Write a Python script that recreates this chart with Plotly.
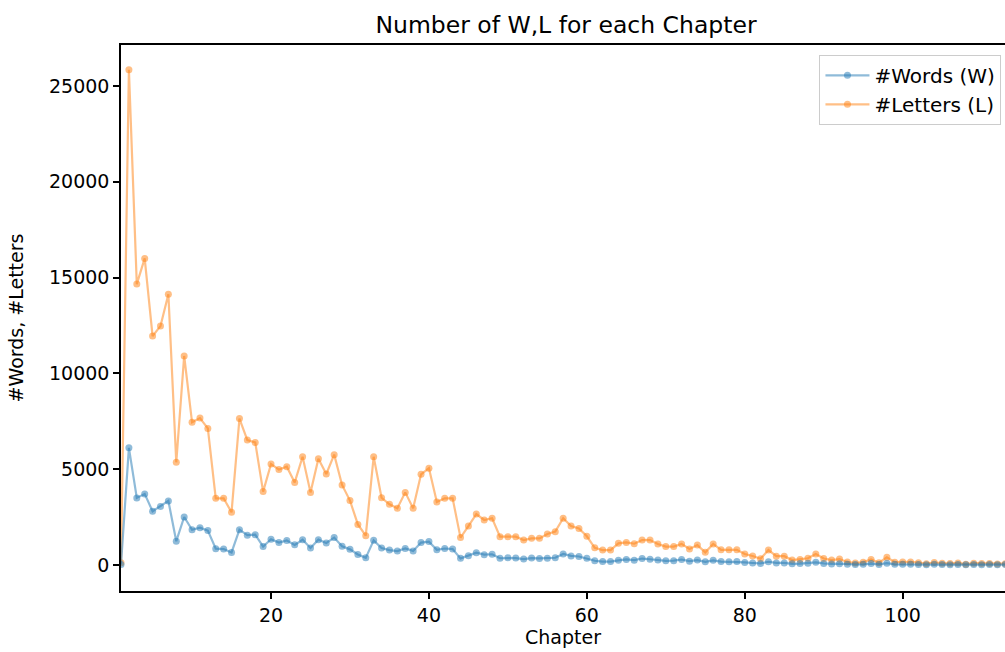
import plotly.graph_objects as go

chapters = list(range(1, 115))

words = [29, 6116, 3503, 3712, 2804, 3055, 3344, 1243, 2505, 1841,
         1947, 1795, 854, 830, 654, 1845, 1559, 1583, 961, 1341,
         1168, 1279, 1051, 1317, 892, 1322, 1149, 1430, 976, 817,
         548, 372, 1287, 883, 778, 729, 865, 735, 1172, 1220,
         796, 860, 833, 346, 488, 644, 539, 560, 353, 373,
         360, 312, 360, 342, 351, 379, 574, 473, 445, 348,
         221, 177, 180, 242, 289, 254, 337, 301, 261, 217,
         227, 286, 200, 256, 164, 243, 181, 174, 179, 133,
         104, 81, 169, 108, 109, 61, 72, 92, 139, 82,
         54, 71, 40, 27, 34, 72, 30, 94, 36, 40,
         36, 28, 14, 33, 23, 17, 25, 10, 27, 19,
         23, 15, 23, 20]

letters = [120, 25850, 14660, 16000, 11950, 12470, 14130, 5360, 10910, 7450,
           7670, 7130, 3480, 3480, 2750, 7640, 6520, 6400, 3830, 5270,
           4980, 5130, 4310, 5650, 3790, 5550, 4750, 5760, 4180, 3360,
           2120, 1530, 5650, 3510, 3170, 2960, 3790, 2960, 4730, 5050,
           3290, 3480, 3480, 1430, 2030, 2660, 2350, 2440, 1480, 1480,
           1480, 1300, 1390, 1390, 1620, 1740, 2440, 2030, 1910, 1500,
           900, 780, 780, 1130, 1180, 1110, 1300, 1300, 1100, 960,
           960, 1100, 840, 1040, 660, 1100, 790, 790, 790, 570,
           470, 330, 780, 460, 460, 260, 290, 350, 570, 340,
           260, 310, 160, 100, 150, 290, 120, 400, 150, 160,
           160, 120, 70, 130, 95, 75, 110, 45, 95, 80,
           80, 47, 70, 80]

x_ticks = [20, 40, 60, 80, 100]
y_ticks = [0, 5000, 10000, 15000, 20000, 25000]

FONT = "DejaVu Sans"
FS = 19

fig = go.Figure()
fig.add_trace(go.Scatter(
    x=chapters, y=letters, mode="lines+markers", name="#Letters (L)",
    line=dict(color="rgba(255,127,14,0.5)", width=2.2),
    marker=dict(color="rgba(255,127,14,0.5)", size=7),
    legendrank=2,
))
fig.add_trace(go.Scatter(
    x=chapters, y=words, mode="lines+markers", name="#Words (W)",
    line=dict(color="rgba(31,119,180,0.5)", width=2.2),
    marker=dict(color="rgba(31,119,180,0.5)", size=7),
    legendrank=1,
))

fig.update_layout(
    width=1005, height=652,
    margin=dict(l=121, r=0, t=45, b=61),
    paper_bgcolor="white", plot_bgcolor="white",
    font=dict(family=FONT, size=FS, color="black"),
    title=dict(text="Number of W,L for each Chapter", xref="container",
               x=566 / 1005, xanchor="center", y=1 - 25 / 652, yanchor="middle",
               font=dict(family=FONT, size=23.5, color="black")),
    showlegend=True,
    legend=dict(x=0.996, xanchor="right", y=0.982, yanchor="top",
                bordercolor="#cccccc", borderwidth=1,
                bgcolor="rgba(255,255,255,0.8)",
                font=dict(family=FONT, size=20, color="black"),
                itemwidth=44, tracegroupgap=0),
)
fig.update_xaxes(
    range=[1, 112.96], tickvals=x_ticks, ticktext=[str(v) for v in x_ticks],
    showgrid=False, zeroline=False, showline=True, linecolor="black",
    linewidth=1.5, mirror=True, ticks="outside", ticklen=6, tickwidth=1.5,
    tickcolor="black",
    tickfont=dict(family=FONT, size=FS, color="black"),
    title=dict(text="Chapter", font=dict(family=FONT, size=FS, color="black"),
               standoff=5),
)
fig.update_yaxes(
    range=[-1357, 27140], tickvals=y_ticks, ticktext=[str(v) for v in y_ticks],
    showgrid=False, zeroline=False, showline=True, linecolor="black",
    linewidth=1.5, mirror=False, ticks="outside", ticklen=6, tickwidth=1.5,
    tickcolor="black",
    tickfont=dict(family=FONT, size=FS, color="black"),
    title=dict(text="#Words, #Letters", font=dict(family=FONT, size=FS, color="black"),
               standoff=20),
)

fig.write_html("out.html", config={"displayModeBar": False},
               post_script="document.body.style.margin='0';")
